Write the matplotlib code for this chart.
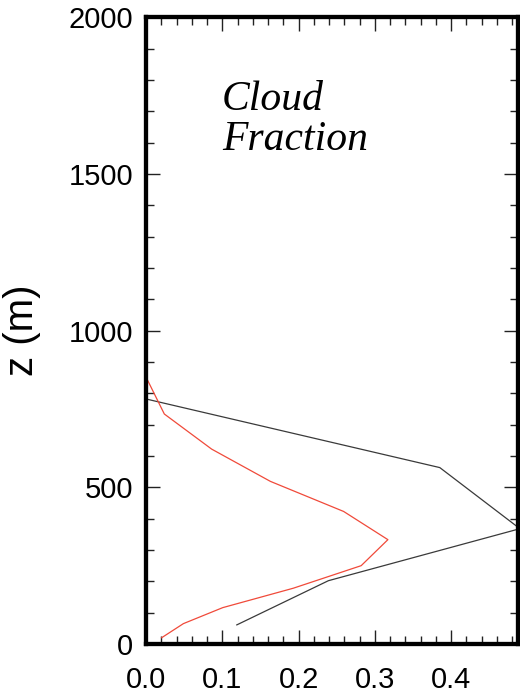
import matplotlib
matplotlib.use("Agg")
import matplotlib.pyplot as plt
from matplotlib.ticker import MultipleLocator

# Data (cloud fraction vs height)
black_cf = [0.0, 0.385, 0.49, 0.239, 0.119]
black_z = [782, 563, 368, 202, 61]

red_cf = [0.0, 0.024, 0.086, 0.163, 0.259, 0.317, 0.282, 0.193, 0.1005, 0.049, 0.0205]
red_z = [852, 734, 622, 519, 423, 333, 250, 178, 116, 65, 20]

xticks = [0.0, 0.1, 0.2, 0.3, 0.4]
xticklabels = ["0.0", "0.1", "0.2", "0.3", "0.4"]
title_lines = ["Cloud", "Fraction"]
ylabel = "z (m)"

fig = plt.figure(figsize=(5.2, 6.93), dpi=100)
W, H = 520, 693
left, right, top, bottom = 146, 518, 17.3, 644
ax = fig.add_axes([left / W, 1 - bottom / H, (right - left) / W, (bottom - top) / H])

ax.plot(black_cf, black_z, color="#3a3a3a", lw=0.9)
ax.plot(red_cf, red_z, color="#f04a3a", lw=0.9)

ax.set_xlim(0, 0.4875)
ax.set_ylim(0, 2000)

ax.set_xticks(xticks)
ax.set_xticklabels(xticklabels)
ax.xaxis.set_minor_locator(MultipleLocator(0.02))
ax.yaxis.set_major_locator(MultipleLocator(500))
ax.yaxis.set_minor_locator(MultipleLocator(100))

for s in ax.spines.values():
    s.set_linewidth(3.1)
    s.set_color("black")

ax.tick_params(which="both", direction="in", top=True, right=True, color="#222222")
ax.tick_params(which="major", length=10, width=1.0, labelsize=21)
ax.tick_params(axis="x", which="major", pad=16)
ax.tick_params(axis="y", which="major", pad=9)
ax.tick_params(which="minor", length=6, width=1.0)
for lab in ax.get_xticklabels() + ax.get_yticklabels():
    lab.set_fontfamily("Liberation Sans")

ax.set_ylabel(ylabel, fontsize=29, fontfamily="Liberation Sans", labelpad=20)

ax.text(0.204, 0.852, title_lines[0], transform=ax.transAxes, fontsize=30,
        fontfamily="Liberation Serif", fontstyle="italic", va="baseline", ha="left")
ax.text(0.204, 0.788, title_lines[1], transform=ax.transAxes, fontsize=30,
        fontfamily="Liberation Serif", fontstyle="italic", va="baseline", ha="left")

fig.savefig("out.png", dpi=100)
